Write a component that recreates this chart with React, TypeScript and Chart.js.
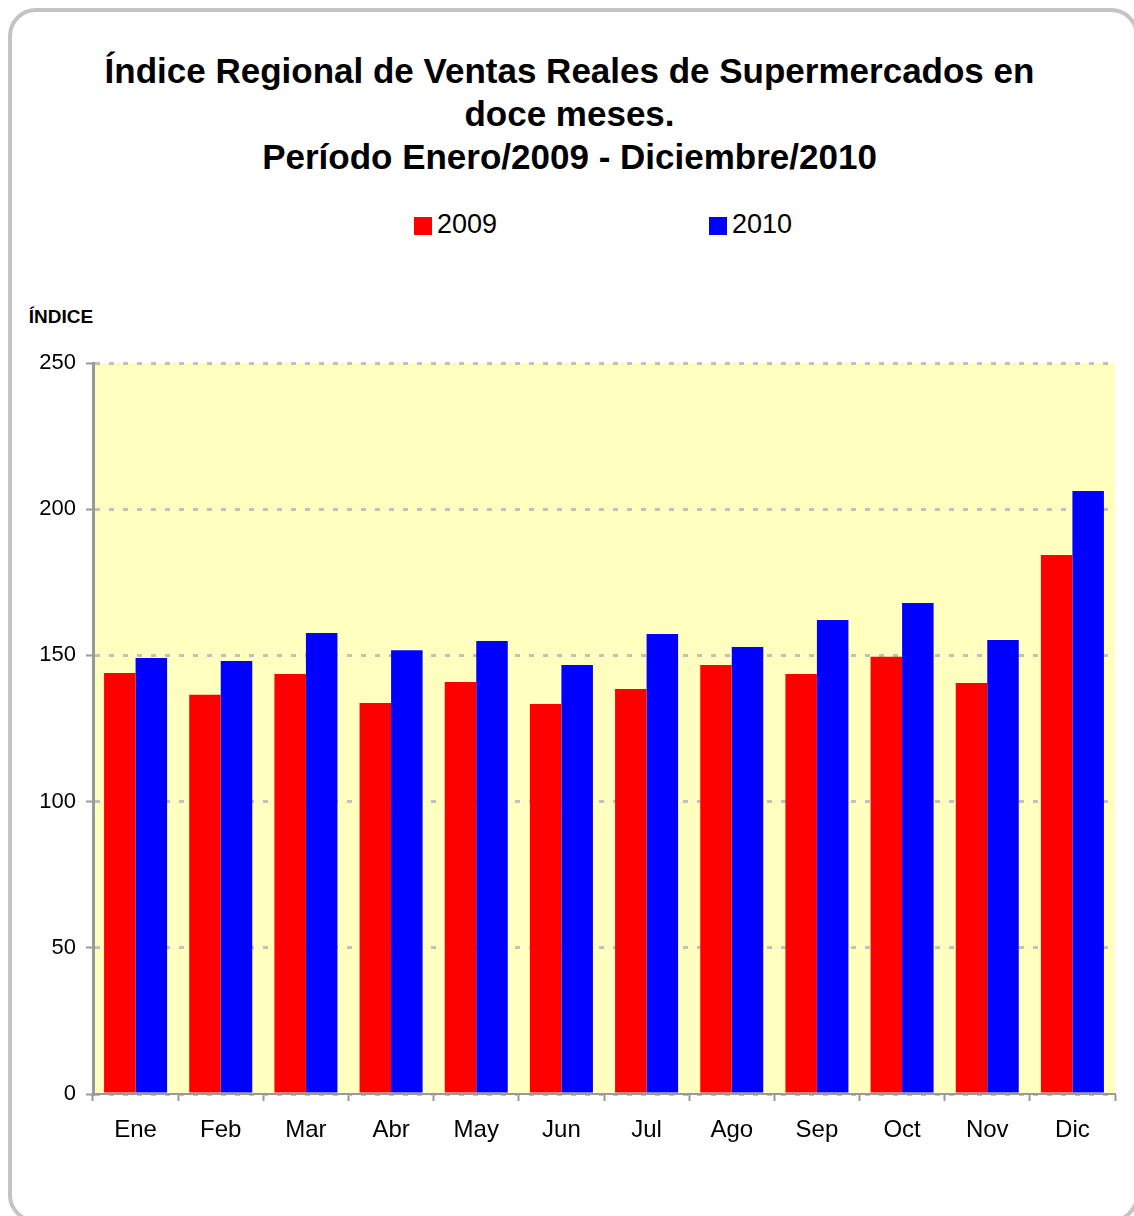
import React, { useEffect, useRef } from "react";
import { Chart, registerables } from "chart.js";

Chart.register(...registerables);

const months = ["Ene", "Feb", "Mar", "Abr", "May", "Jun", "Jul", "Ago", "Sep", "Oct", "Nov", "Dic"];
const values2009 = [144.0, 136.5, 143.6, 133.7, 140.9, 133.4, 138.5, 146.7, 143.6, 149.5, 140.6, 184.3];
const values2010 = [149.1, 148.1, 157.7, 151.8, 154.9, 146.7, 157.3, 152.9, 162.1, 167.9, 155.3, 206.2];
const seriesLabels = ["2009", "2010"];
const seriesColors = ["#FF0000", "#0000FF"];
const titleLines = [
  "Índice Regional de Ventas Reales de Supermercados en",
  "doce meses.",
  "Período Enero/2009 - Diciembre/2010",
];
const yAxisTitle = "ÍNDICE";
const yMin = 0;
const yMax = 250;
const yStep = 50;

const FONT = "'Liberation Sans', Arial, Helvetica, sans-serif";

const plotBg = {
  id: "plotBg",
  beforeDraw(chart: any) {
    const { ctx, chartArea } = chart;
    ctx.save();
    ctx.fillStyle = "#FFFFC0";
    ctx.fillRect(chartArea.left, chartArea.top, chartArea.right - chartArea.left, chartArea.bottom - chartArea.top);
    ctx.restore();
  },
};

export default function App() {
  const ref = useRef<HTMLCanvasElement | null>(null);

  useEffect(() => {
    if (!ref.current) return;
    const chart = new Chart(ref.current, {
      type: "bar",
      data: {
        labels: months,
        datasets: [
          { label: seriesLabels[0], data: values2009, backgroundColor: seriesColors[0], borderWidth: 0 },
          { label: seriesLabels[1], data: values2010, backgroundColor: seriesColors[1], borderWidth: 0 },
        ],
      },
      options: {
        responsive: false,
        animation: false,
        events: [],
        layout: { padding: { left: 0, right: 19, top: 33, bottom: 0 } },
        datasets: { bar: { categoryPercentage: 0.74, barPercentage: 1.0 } },
        plugins: {
          legend: { display: false },
          title: { display: false },
          tooltip: { enabled: false },
        },
        scales: {
          x: {
            offset: true,
            grid: {
              offset: true,
              drawOnChartArea: false,
              drawTicks: true,
              tickLength: 7,
              tickColor: "#999999",
              tickWidth: 2,
              color: "#999999",
            },
            border: { display: true, color: "#999999", width: 2 },
            ticks: {
              color: "#000000",
              font: { family: FONT, size: 24 },
              padding: 15,
              maxRotation: 0,
              autoSkip: false,
            },
            afterFit: (scale: any) => {
              scale.height = 86;
            },
          },
          y: {
            min: yMin,
            max: yMax,
            grid: {
              drawOnChartArea: true,
              drawTicks: true,
              tickLength: 7,
              tickColor: "#999999",
              tickWidth: 2,
              color: "#C0C0C0",
              lineWidth: 3,
            },
            border: { display: true, color: "#999999", width: 3, dash: [5, 9] },
            ticks: {
              stepSize: yStep,
              color: "#000000",
              font: { family: FONT, size: 22 },
              padding: 10,
            },
            afterFit: (scale: any) => {
              scale.width = 93;
            },
          },
        },
      },
      plugins: [plotBg],
    });
    return () => chart.destroy();
  }, []);

  return (
    <div
      style={{
        position: "fixed",
        left: 0,
        top: 0,
        width: 1134,
        height: 1216,
        overflow: "hidden",
        background: "#FFFFFF",
        fontFamily: FONT,
        color: "#000",
      }}
    >
      <div
        style={{
          position: "absolute",
          left: 8,
          top: 8,
          width: 1131,
          height: 1215,
          boxSizing: "border-box",
          border: "4px solid #C4C4C4",
          borderRadius: 28,
        }}
      />
      <div
        style={{
          position: "absolute",
          left: 0,
          top: 48.5,
          width: 1139,
          textAlign: "center",
          fontWeight: "bold",
          fontSize: 35,
          lineHeight: "43.4px",
          whiteSpace: "nowrap",
        }}
      >
        {titleLines.map((t, i) => (
          <div key={i}>{t}</div>
        ))}
      </div>
      {seriesLabels.map((lab, i) => {
        const sqLeft = i === 0 ? 414 : 709;
        return (
          <React.Fragment key={lab}>
            <div
              style={{
                position: "absolute",
                left: sqLeft,
                top: 217,
                width: 18,
                height: 18,
                background: seriesColors[i],
              }}
            />
            <div
              style={{
                position: "absolute",
                left: sqLeft + 23,
                top: 211,
                fontSize: 27,
                lineHeight: "27px",
                whiteSpace: "nowrap",
              }}
            >
              {lab}
            </div>
          </React.Fragment>
        );
      })}
      <div
        style={{
          position: "absolute",
          left: 28.8,
          top: 307,
          fontSize: 19,
          lineHeight: "19px",
          fontWeight: "bold",
          whiteSpace: "nowrap",
        }}
      >
        {yAxisTitle}
      </div>
      <canvas
        ref={ref}
        width={1134}
        height={850}
        style={{ position: "absolute", left: 0, top: 330, width: 1134, height: 850 }}
      />
    </div>
  );
}
